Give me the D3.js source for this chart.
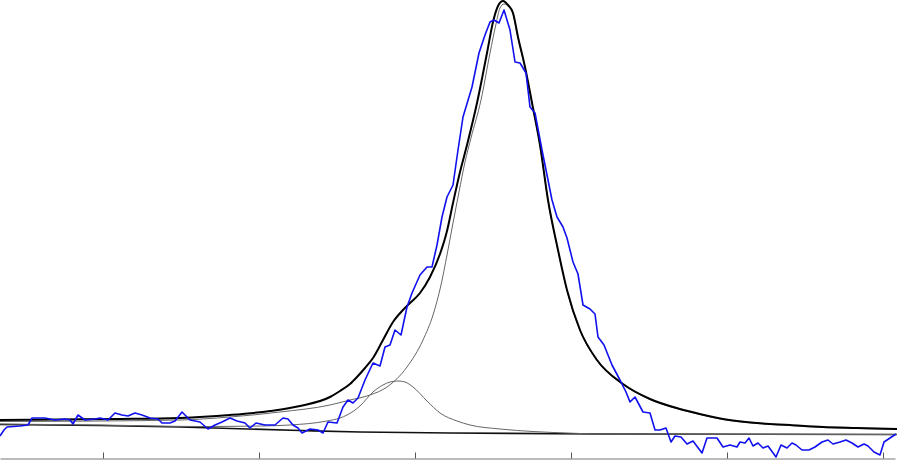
<!DOCTYPE html>
<html>
<head>
<meta charset="utf-8">
<script src="https://cdn.jsdelivr.net/npm/d3@7"></script>
<style>
html,body{margin:0;padding:0;background:#fff;}
svg{display:block;}
</style>
</head>
<body>
<svg id="chart" width="900" height="463"></svg>
<script>
// ---- data (x in channel units, y = intensity) ----
const tickValues = [103, 259, 415, 571, 727, 883];

const measuredX = [0,4,7,20,28,32,45,55,65,70,73,78,85,95,100,108,115,122,128,135,142,150,158,162,170,175,182,190,200,208,215,222,230,237,245,250,256,265,275,283,288,293,298,302,310,318,323,328,337,343,348,353,358,365,373,380,385,390,395,401,407,412,420,427,432,437,442,447,453,458,463,472,479,485,490,494,499,504,510,515,520,526,530,535,542,552,557,563,567,573,578,583,590,595,598,604,612,620,626,630,635,643,650,655,660,666,671,675,681,687,693,702,707,717,723,730,737,740,745,749,753,758,763,768,776,781,787,792,796,802,809,815,822,828,833,840,846,852,858,864,868,874,880,884,890,896];
const measuredY = [24,30,33,34,35,42,42,40,41,40,36,45,40,41,42,40,47,45,44,47,45,42,41,37,37,39,48,40,38,31,35,38,42,39,37,32,37,35,35,42,41,35,32,27,31,30,27,38,37,53,60,57,62,80,97,94,113,115,130,125,153,167,185,193,193,215,243,263,275,310,343,373,407,425,438,440,437,450,430,398,397,387,353,347,310,260,243,233,222,198,186,155,151,146,123,115,95,80,68,58,63,48,47,30,30,32,18,24,23,16,19,7,22,22,13,15,13,18,17,22,14,17,12,14,3,15,12,17,15,10,10,13,18,20,16,18,20,17,13,16,14,8,5,18,22,26];

const fitX = [0,60,120,180,230,270,300,330,340,350,357,365,373,383,393,403,410,420,430,440,447,453,460,467,477,487,493,498,503,508,513,518,525,533,540,548,558,567,580,597,623,650,680,700,723,757,790,823,857,897];
const fitY = [40,40.5,41,42,45,49,54,63,69,76,83,92,102,120,138,150,157,167,183,206,229,257,288,315,357,407,438,454,459,455,447,423,393,352,315,260,210,170,130,100,76,61,51,46,41,37,35,33,32,31];

const mainX = [0,100,180,230,280,330,350,370,387,407,423,433,441,447,453,459,465,471,481,490,496,500,504,508,513,518,525,533,540,548,558,567,580,597,623,650,680,700,723,757,790,823,857,897];
const mainY = [38.5,39,40,43,48,55,60,65,73,93,120,145,175,205,237,268,298,322,360,407,436,452,456,454,446,422,392.5,351.5,314.5,259.5,209.5,169.5,129.5,99.5,75.5,60.5,50.5,45.5,40.5,36.5,34.5,32.5,31.5,30.5];

const smallX = [0,100,200,260,290,327,340,347,360,373,383,390,398,405,413,427,440,457,470,500,533,567,600,700,897];
const smallY = [36,35,33.5,34,35,39,42,45,54,68,75,78,79,78,73,59,47,39,35,31,28.5,27,26,25.7,25.5];

const baseX = [0,100,180,300,360,450,600,897];
const baseY = [35.5,34.5,33,29.5,28,27,26,25.5];

// ---- drawing ----
const svg = d3.select("#chart");
const x = d3.scaleLinear().domain([0, 895]).range([0, 895]);
const y = d3.scaleLinear().domain([0, 460]).range([460, 0]);

const zip = (xs, ys) => xs.map((v, i) => [v, ys[i]]);
const smooth = d3.line().x(d => x(d[0])).y(d => y(d[1])).curve(d3.curveMonotoneX);
const straight = d3.line().x(d => x(d[0])).y(d => y(d[1]));

// axis
const axis = d3.axisBottom(x).tickValues(tickValues).tickFormat("").tickSizeInner(-6).tickSizeOuter(0);
const ag = svg.append("g").attr("transform", "translate(0,458.5)").call(axis);
ag.select(".domain").attr("stroke", "#777");
ag.selectAll(".tick line").attr("stroke", "#555");

// baseline
svg.append("path").datum(zip(baseX, baseY)).attr("d", smooth)
  .attr("fill", "none").attr("stroke", "#111").attr("stroke-width", 1.6);

// components
svg.append("path").datum(zip(smallX, smallY)).attr("d", smooth)
  .attr("fill", "none").attr("stroke", "#666").attr("stroke-width", 1);
svg.append("path").datum(zip(mainX, mainY)).attr("d", smooth)
  .attr("fill", "none").attr("stroke", "#666").attr("stroke-width", 1);

// total fit
svg.append("path").datum(zip(fitX, fitY)).attr("d", smooth)
  .attr("fill", "none").attr("stroke", "#000").attr("stroke-width", 2);

// measured data
svg.append("path").datum(zip(measuredX, measuredY)).attr("d", straight)
  .attr("fill", "none").attr("stroke", "#1010f0").attr("stroke-width", 1.6)
  .attr("stroke-linejoin", "round");
</script>
</body>
</html>
